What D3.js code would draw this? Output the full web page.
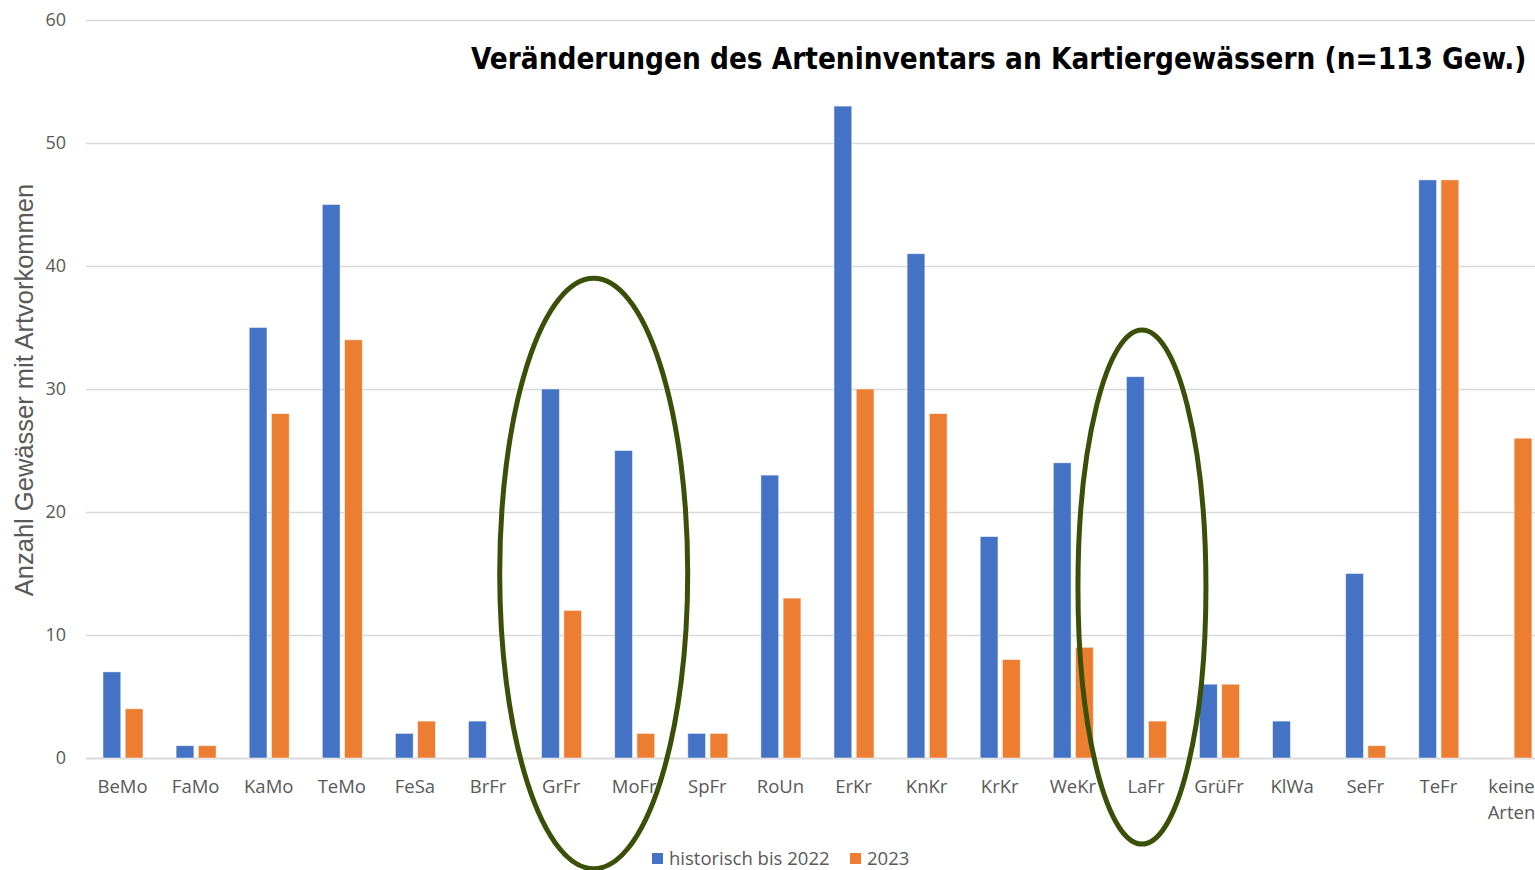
<!DOCTYPE html>
<html>
<head>
<meta charset="utf-8">
<script src="https://cdn.jsdelivr.net/npm/d3@7"></script>
<style>
  body { margin: 0; background: #fff; overflow: hidden; }
  svg { display: block; }
</style>
</head>
<body>
<svg></svg>
<script>
let categories = ['BeMo', 'FaMo', 'KaMo', 'TeMo', 'FeSa', 'BrFr', 'GrFr', 'MoFr', 'SpFr', 'RoUn',
                  'ErKr', 'KnKr', 'KrKr', 'WeKr', 'LaFr', 'GrüFr', 'KlWa', 'SeFr', 'TeFr', 'keine Arten']
let historisch = [7, 1, 35, 45, 2, 3, 30, 25, 2, 23, 53, 41, 18, 24, 31, 6, 3, 15, 47, 0]
let jahr2023 = [4, 1, 28, 34, 3, 0, 12, 2, 2, 13, 30, 28, 8, 9, 3, 6, 0, 1, 47, 26]
let seriesNames = ['historisch bis 2022', '2023']
let yTicks = [0, 10, 20, 30, 40, 50, 60]
let title = 'Veränderungen des Arteninventars an Kartiergewässern (n=113 Gew.)'
let yLabel = 'Anzahl Gewässer mit Artvorkommen'

let width = 1535
let height = 870
let colors = ['#4472C4', '#ED7D31']
let tickFont = '"Open Sans", sans-serif'

let svg = d3.select('svg').attr('width', width).attr('height', height)

let x = d3.scaleBand().domain(categories).range([86, 86 + 73.1 * categories.length])
let x1 = d3.scaleBand().domain(seriesNames).range([17, 57]).paddingInner(0.2)
let y = d3.scaleLinear().domain([0, 60]).range([758, 20])

// gridlines
svg.append('g')
  .selectAll('line')
  .data(yTicks)
  .join('line')
    .attr('x1', 86)
    .attr('x2', width)
    .attr('y1', d => Math.round(y(d)) + 0.5)
    .attr('y2', d => Math.round(y(d)) + 0.5)
    .attr('stroke', '#D9D9D9')
    .attr('stroke-width', d => d === 0 ? 2 : 1.3)

// y tick labels
svg.append('g')
  .selectAll('text')
  .data(yTicks)
  .join('text')
    .attr('x', 66)
    .attr('y', d => y(d))
    .attr('dy', '0.35em')
    .attr('text-anchor', 'end')
    .attr('font-family', tickFont)
    .attr('font-size', 18)
    .attr('fill', '#595959')
    .text(d => d)

// bars
let rows = categories.map((c, i) => ({ cat: c, values: [historisch[i], jahr2023[i]] }))
let groups = svg.append('g')
  .selectAll('g')
  .data(rows)
  .join('g')
    .attr('transform', d => `translate(${x(d.cat)},0)`)

groups.selectAll('rect')
  .data(d => d.values.map((v, k) => ({ key: seriesNames[k], v: v, k: k })).filter(e => e.v > 0))
  .join('rect')
    .attr('x', d => x1(d.key))
    .attr('width', x1.bandwidth())
    .attr('y', d => y(d.v))
    .attr('height', d => y(0) - y(d.v))
    .attr('fill', d => colors[d.k])
    .attr('stroke', '#fff')
    .attr('stroke-opacity', 0.6)
    .attr('stroke-width', 0.8)

// x labels
let xLabels = svg.append('g')
  .selectAll('text')
  .data(categories)
  .join('text')
    .attr('x', d => x(d) + x.bandwidth() / 2)
    .attr('y', 793)
    .attr('text-anchor', 'middle')
    .attr('font-family', tickFont)
    .attr('font-size', 18.5)
    .attr('fill', '#595959')

xLabels.each(function (d) {
  let words = d.split(' ')
  let t = d3.select(this)
  words.forEach((w, i) => {
    t.append('tspan')
      .attr('x', x(d) + x.bandwidth() / 2)
      .attr('dy', i === 0 ? 0 : 26)
      .text(w)
  })
})

// y axis title
svg.append('text')
  .attr('transform', `translate(33, 390) rotate(-90)`)
  .attr('text-anchor', 'middle')
  .attr('font-family', '"Liberation Sans", Arial, sans-serif')
  .attr('font-size', 25.5)
  .attr('fill', '#595959')
  .text(yLabel)

// chart title, sized to fit between x=471 and the right edge
let titleText = svg.append('text')
  .attr('x', 471)
  .attr('y', 69)
  .attr('font-family', '"DejaVu Sans Condensed", "DejaVu Sans", sans-serif')
  .attr('font-weight', 'bold')
  .attr('font-size', 30)
  .attr('fill', '#000')
  .text(title)
let natural = titleText.node().getComputedTextLength()
let fitSize = Math.min(31, 30 * 1056 / natural)
titleText.attr('font-size', fitSize)

// legend
let legend = svg.append('g')
let legendItems = [{ name: seriesNames[0], x: 652 }, { name: seriesNames[1], x: 850 }]
legendItems.forEach((d, i) => {
  legend.append('rect')
    .attr('x', d.x)
    .attr('y', 853)
    .attr('width', 11)
    .attr('height', 11)
    .attr('fill', colors[i])
  legend.append('text')
    .attr('x', d.x + 17)
    .attr('y', 865)
    .attr('font-family', tickFont)
    .attr('font-size', 18.5)
    .attr('fill', '#595959')
    .text(d.name)
})

// annotation ellipses
let ellipses = [
  { cx: x('MoFr') - 4, cy: y(15), rx: 94, ry: y(0) - y(24) },
  { cx: x('LaFr') + x.bandwidth() / 2 - 4, cy: y(13.9), rx: 64, ry: y(0) - y(20.9) }
]
svg.append('g')
  .selectAll('ellipse')
  .data(ellipses)
  .join('ellipse')
    .attr('cx', d => d.cx)
    .attr('cy', d => d.cy)
    .attr('rx', d => d.rx)
    .attr('ry', d => d.ry)
    .attr('fill', 'none')
    .attr('stroke', '#3A5008')
    .attr('stroke-width', 5)
</script>
</body>
</html>
